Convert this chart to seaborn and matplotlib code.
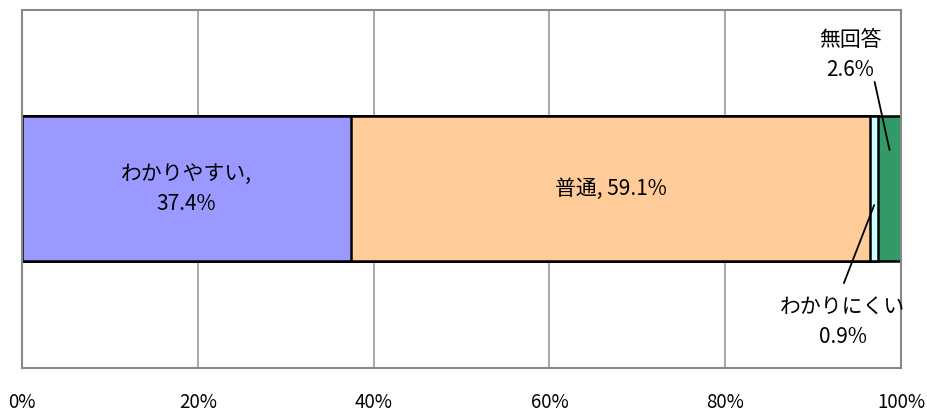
import seaborn as sns
import matplotlib.pyplot as plt
import numpy as np
import pandas as pd

# データ
categories = ['わかりやすい', '普通', 'わかりにくい', '無回答']
values = [37.4, 59.1, 0.9, 2.6]
colors = ['#9999FF', '#FFCC99', '#CCFFFF', '#339966']
xticks = [0, 20, 40, 60, 80, 100]
xtick_labels = ['0%', '20%', '40%', '60%', '80%', '100%']

sns.set_style("white")
plt.rcParams['font.family'] = ['Noto Sans CJK JP', 'DejaVu Sans']
plt.rcParams['text.color'] = 'black'
plt.rcParams['xtick.color'] = 'black'

cum = np.cumsum(values)
starts = cum - np.array(values)

fig = plt.figure(figsize=(9.28, 4.16), dpi=100)
ax = fig.add_axes([0.0237, 0.1154, 0.9472, 0.8606])

# 積み上げ横棒 (累積値を大きい順に重ねる)
for i in range(len(values) - 1, -1, -1):
    df = pd.DataFrame({'x': [cum[i]], 'y': ['']})
    sns.barplot(data=df, x='x', y='y', orient='h', color=colors[i],
                edgecolor='black', linewidth=1.8, width=0.405,
                saturation=1, ax=ax)

ax.set_xlim(0, 100)
ax.set_ylim(0.5, -0.5)
ax.set_xticks(xticks)
ax.set_xticklabels(xtick_labels, fontsize=13.5, color='black')
ax.tick_params(axis='x', length=0, pad=17)
ax.set_yticks([])
ax.set_xlabel('')
ax.set_ylabel('')
ax.grid(axis='x', color='#999999', linewidth=1.2)
ax.set_axisbelow(True)
for s in ax.spines.values():
    s.set_color('#888888')
    s.set_linewidth(1.5)

fs = 15
ls = 1.45
# ラベル
ax.text(starts[0] + values[0] / 2, 0, f'{categories[0]},\n{values[0]}%',
        ha='center', va='center', fontsize=fs, linespacing=ls, color='black')
ax.text(starts[1] + values[1] / 2, 0, f'{categories[1]}, {values[1]}%',
        ha='center', va='center', fontsize=fs, color='black')

trans = ('data', 'axes fraction')
ax.text(0.942, 0.874, f'{categories[3]}\n{values[3]}%', transform=ax.transAxes,
        ha='center', va='center', fontsize=fs, linespacing=ls, color='black')
ax.annotate('', xy=(starts[3] + values[3] / 2, 0.609), xycoords=trans,
            xytext=(97.0, 0.799), textcoords=trans,
            arrowprops=dict(arrowstyle='-', color='black', lw=1.3,
                            shrinkA=0, shrinkB=0))
ax.text(0.934, 0.128, f'{categories[2]}\n{values[2]}%', transform=ax.transAxes,
        ha='center', va='center', fontsize=fs, linespacing=ls, color='black')
ax.annotate('', xy=(starts[2] + values[2] / 2, 0.455), xycoords=trans,
            xytext=(93.5, 0.237), textcoords=trans,
            arrowprops=dict(arrowstyle='-', color='black', lw=1.3,
                            shrinkA=0, shrinkB=0))

plt.savefig('out.png', dpi=100)
plt.close()
